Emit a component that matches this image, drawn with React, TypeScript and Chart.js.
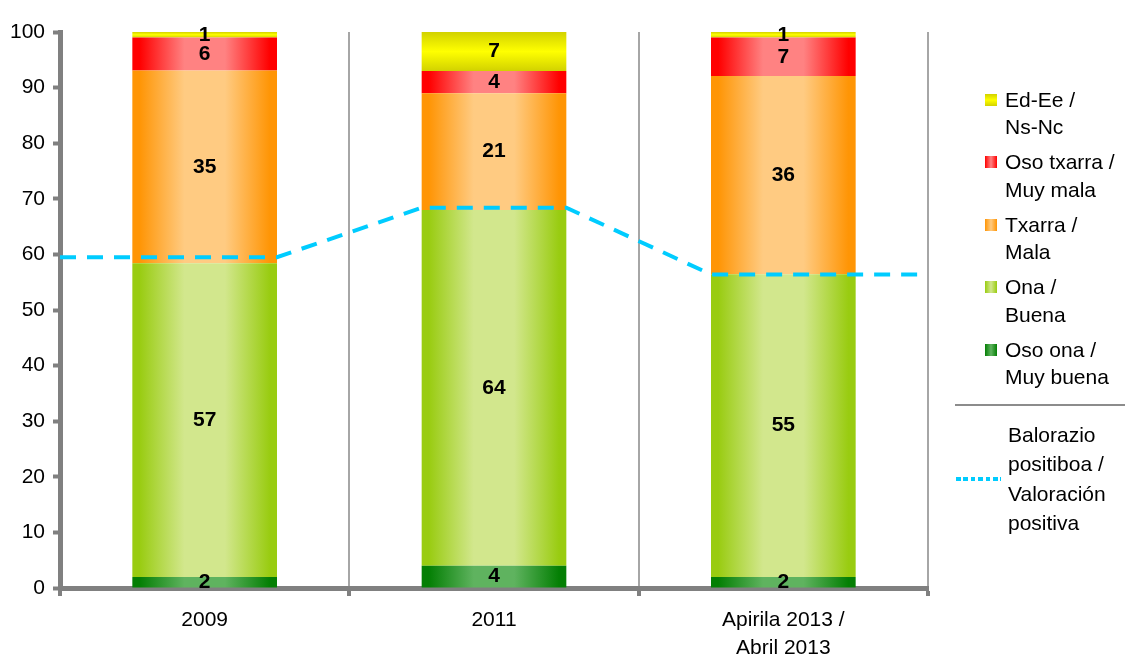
import React, { useEffect, useRef } from "react";
import { Chart, registerables } from "chart.js";

Chart.register(...registerables);

// ---- data ----
const categories: (string | string[])[] = ["2009", "2011", ["Apirila 2013 /", "Abril 2013"]];
const muyBuena = [2, 4, 2];
const buena = [57, 64, 55];
const mala = [35, 21, 36];
const muyMala = [6, 4, 7];
const nsnc = [1, 7, 1];
const valoracionPositiva = [59.5, 68.4, 56.4];
const yMin = 0;
const yMax = 100;
const yStep = 10;

const labelMuyBuena = ["Oso ona /", "Muy buena"];
const labelBuena = ["Ona /", "Buena"];
const labelMala = ["Txarra /", "Mala"];
const labelMuyMala = ["Oso txarra /", "Muy mala"];
const labelNsnc = ["Ed-Ee /", "Ns-Nc"];
const labelLine = ["Balorazio", "positiboa /", "Valoración", "positiva"];

const FONT = '"Liberation Sans", Arial, sans-serif';
const FS = 21;
const BAR_PCT = 0.5;

const series = [muyBuena, buena, mala, muyMala, nsnc];
const totals = categories.map((_, i) => series.reduce((s, arr) => s + arr[i], 0));
const share = (arr: number[]) => arr.map((v, i) => (v / totals[i]) * 100);

const colors = {
  muyBuena: { edge: "#047f04", light: "#5fb35f" },
  buena: { edge: "#99cc11", light: "#d2e78d" },
  mala: { edge: "#ff9505", light: "#ffcb82" },
  muyMala: { edge: "#ff0000", light: "#ff8282" },
  nsnc: { edge: "#d2d200", light: "#ffff00" },
};

function hGrad(edge: string, light: string) {
  return (ctx: any) => {
    const chart = ctx.chart;
    const xs = chart.scales?.x;
    if (!xs || ctx.dataIndex === undefined || !chart.chartArea) return edge;
    const c = xs.getPixelForValue(ctx.dataIndex);
    const w = (xs.width / categories.length) * BAR_PCT;
    const g = chart.ctx.createLinearGradient(c - w / 2, 0, c + w / 2, 0);
    g.addColorStop(0, edge);
    g.addColorStop(0.05, edge);
    g.addColorStop(0.36, light);
    g.addColorStop(0.64, light);
    g.addColorStop(0.95, edge);
    g.addColorStop(1, edge);
    return g;
  };
}

function vGradTop(edge: string, light: string, sh: number[]) {
  return (ctx: any) => {
    const chart = ctx.chart;
    const ys = chart.scales?.y;
    if (!ys || ctx.dataIndex === undefined || !chart.chartArea) return light;
    const top = ys.getPixelForValue(yMax);
    const bottom = ys.getPixelForValue(yMax - sh[ctx.dataIndex]);
    const g = chart.ctx.createLinearGradient(0, top, 0, bottom);
    g.addColorStop(0, edge);
    g.addColorStop(0.5, light);
    g.addColorStop(1, edge);
    return g;
  };
}

// line points: flat across each bar, first/last extend to the plot edge
const n = categories.length;
const linePoints: { x: number; y: number }[] = [];
valoracionPositiva.forEach((v, i) => {
  const left = i === 0 ? 0 : i + (1 - BAR_PCT) / 2;
  const right = i === n - 1 ? n : i + 1 - (1 - BAR_PCT) / 2;
  linePoints.push({ x: left, y: v });
  linePoints.push({ x: right, y: v });
});

const segLabelPlugin = {
  id: "segLabels",
  afterDatasetsDraw(chart: any) {
    const { ctx } = chart;
    ctx.save();
    ctx.font = `bold ${FS}px ${FONT}`;
    ctx.fillStyle = "#000";
    ctx.textAlign = "center";
    ctx.textBaseline = "middle";
    chart.data.datasets.forEach((ds: any, di: number) => {
      if (!ds.rawValues) return;
      const meta = chart.getDatasetMeta(di);
      meta.data.forEach((el: any, i: number) => {
        const p = el.getProps(["x", "y", "base"], true);
        ctx.fillText(String(ds.rawValues[i]), p.x, (p.y + p.base) / 2);
      });
    });
    ctx.restore();
  },
};

const legendItems = [
  { label: labelNsnc, c: colors.nsnc, vertical: true },
  { label: labelMuyMala, c: colors.muyMala },
  { label: labelMala, c: colors.mala },
  { label: labelBuena, c: colors.buena },
  { label: labelMuyBuena, c: colors.muyBuena },
];

export default function App() {
  const canvasRef = useRef<HTMLCanvasElement | null>(null);

  useEffect(() => {
    if (!canvasRef.current) return;
    const barDs = (label: string[], arr: number[], c: { edge: string; light: string }, vertical = false) => {
      const sh = share(arr);
      return {
        type: "bar" as const,
        label: label.join(" "),
        data: sh,
        rawValues: arr,
        backgroundColor: vertical ? vGradTop(c.edge, c.light, sh) : hGrad(c.edge, c.light),
        borderWidth: 0,
        barPercentage: BAR_PCT,
        categoryPercentage: 1,
        grouped: false,
        xAxisID: "x",
        yAxisID: "y",
        order: 1,
      };
    };

    const chart = new Chart(canvasRef.current, {
      type: "bar",
      data: {
        labels: categories as any,
        datasets: [
          barDs(labelMuyBuena, muyBuena, colors.muyBuena),
          barDs(labelBuena, buena, colors.buena),
          barDs(labelMala, mala, colors.mala),
          barDs(labelMuyMala, muyMala, colors.muyMala),
          barDs(labelNsnc, nsnc, colors.nsnc, true),
          {
            type: "line" as const,
            label: labelLine.join(" "),
            data: linePoints as any,
            xAxisID: "x2",
            yAxisID: "y2",
            borderColor: "#00ccff",
            borderWidth: 4,
            borderDash: [16, 11],
            pointRadius: 0,
            fill: false,
            tension: 0,
            order: 0,
          } as any,
        ],
      },
      options: {
        animation: false,
        responsive: true,
        maintainAspectRatio: false,
        layout: { padding: { top: 32, right: 197, left: 0, bottom: 0 } },
        plugins: {
          legend: { display: false },
          tooltip: { enabled: false },
        },
        scales: {
          x: {
            type: "category",
            stacked: true,
            offset: true,
            afterFit: (s: any) => {
              s.height = 69;
            },
            grid: {
              display: true,
              offset: true,
              drawOnChartArea: true,
              color: "#a6a6a6",
              lineWidth: 2,
              tickColor: "#808080",
              tickWidth: 4,
              tickLength: 8,
            },
            border: { display: true, color: "#808080", width: 5 },
            ticks: {
              color: "#000",
              font: { family: FONT, size: FS, lineHeight: 1.35 },
              padding: 10,
              maxRotation: 0,
              autoSkip: false,
            },
          },
          x2: {
            type: "linear",
            display: false,
            offset: false,
            min: 0,
            max: n,
          },
          y2: {
            type: "linear",
            display: false,
            stacked: false,
            min: yMin,
            max: yMax,
          },
          y: {
            type: "linear",
            stacked: true,
            min: yMin,
            max: yMax,
            afterFit: (s: any) => {
              s.width = 60;
            },
            grid: {
              display: true,
              drawOnChartArea: false,
              tickColor: "#808080",
              tickWidth: 4,
              tickLength: 7,
            },
            border: { display: true, color: "#808080", width: 5 },
            ticks: {
              stepSize: yStep,
              color: "#000",
              font: { family: FONT, size: FS },
              padding: 8,
            },
          },
        },
      } as any,
      plugins: [segLabelPlugin],
    });
    return () => chart.destroy();
  }, []);

  const textStyle: React.CSSProperties = {
    position: "absolute",
    fontFamily: FONT,
    fontSize: FS,
    color: "#000",
    whiteSpace: "nowrap",
  };

  return (
    <div style={{ position: "absolute", left: 0, top: 0, width: 1125, height: 657, background: "#fff" }}>
      <div style={{ position: "absolute", left: 0, top: 0, width: 1125, height: 657 }}>
        <canvas ref={canvasRef} />
      </div>
      {legendItems.map((it, i) => {
        const top = 85.5 + 62.5 * i;
        const bg = it.vertical
          ? `linear-gradient(to bottom, ${it.c.edge}, ${it.c.light}, ${it.c.edge})`
          : `linear-gradient(to right, ${it.c.edge}, ${it.c.light}, ${it.c.edge})`;
        return (
          <React.Fragment key={i}>
            <div
              style={{
                position: "absolute",
                left: 985,
                top: top + 8,
                width: 12,
                height: 12,
                background: bg,
              }}
            />
            <div style={{ ...textStyle, left: 1005, top, lineHeight: "27.5px" }}>
              {it.label.map((l, j) => (
                <div key={j}>{l}</div>
              ))}
            </div>
          </React.Fragment>
        );
      })}
      <div style={{ position: "absolute", left: 955, top: 404, width: 170, height: 2, background: "#8c8c8c" }} />
      <div
        style={{
          position: "absolute",
          left: 956,
          top: 477,
          width: 45,
          height: 4,
          background: "repeating-linear-gradient(to right, #00ccff 0 4.6px, transparent 4.6px 7.4px)",
        }}
      />
      <div style={{ ...textStyle, left: 1008, top: 420, lineHeight: "29.4px" }}>
        {labelLine.map((l, j) => (
          <div key={j}>{l}</div>
        ))}
      </div>
    </div>
  );
}
